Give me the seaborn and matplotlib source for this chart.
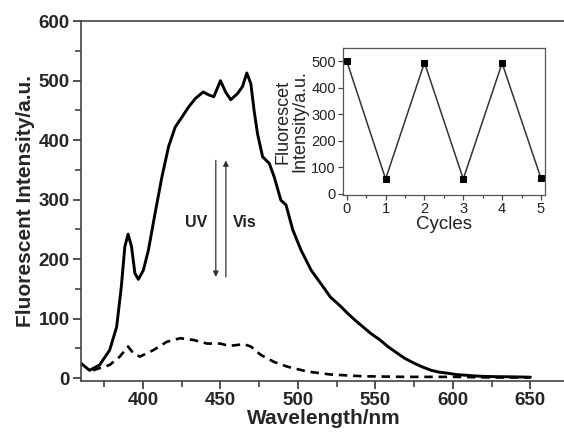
import matplotlib
matplotlib.use("Agg")
import matplotlib.pyplot as plt
from matplotlib.ticker import MultipleLocator
import seaborn as sns

# emission spectrum after visible light (solid)
vis_wl = [359, 365.5, 372, 378.5, 383, 386, 388.3, 390.4, 392.6, 394.8, 397, 400.2,
          403.5, 407.8, 412.2, 416.5, 420.8, 425.2, 429.5, 433.8, 438.8, 442.5, 445.7,
          450, 453.3, 456.6, 460.9, 464.2, 467, 469.6, 471.7, 473.9, 477.2, 481.5,
          484.7, 489, 492.3, 496.7, 502, 508.6, 515, 521, 527, 532, 537, 542, 547,
          553, 558, 564, 569, 575, 580, 586, 591, 597, 602, 607, 612, 618, 625, 640, 650]
vis_int = [27, 13, 22, 47, 86, 153, 221, 242, 221, 176, 166, 181,
           215, 277, 338, 389, 422, 439, 456, 470, 481, 476, 473,
           500, 481, 468, 478, 490, 513, 495, 450, 411, 372, 361,
           338, 299, 291, 249, 215, 181, 158, 136, 122, 109, 97, 86, 75,
           64, 53, 42, 33, 25, 19, 13, 10, 8, 6, 5, 4, 3, 2.5, 2, 1.5]

# emission spectrum after UV light (dashed)
uv_wl = [367.7, 378.5, 385, 390.4, 393.7, 398, 406.7, 415.4, 424, 432.7, 441.4, 450,
         455.5, 465.2, 469.6, 476, 484.7, 493.4, 506, 521, 542, 570, 600, 625, 650]
uv_int = [13, 22, 36, 53, 42, 36, 47, 61, 67, 64, 58, 58,
          54, 57, 53, 39, 27, 19, 11, 6, 3, 2, 2, 1, 1]

# inset: switching cycles
cycles = [0, 1, 2, 3, 4, 5]
cycle_int = [500, 55, 495, 55, 493, 58]

sns.set_theme(style="ticks")
plt.rcParams["font.family"] = ["Liberation Sans", "DejaVu Sans"]

fig = plt.figure(figsize=(5.64, 4.33), dpi=100)
ax = fig.add_axes([0.1436, 0.120, 0.86, 0.831])

sns.lineplot(x=vis_wl, y=vis_int, ax=ax, color="black", linewidth=2.1)
sns.lineplot(x=uv_wl, y=uv_int, ax=ax, color="black", linewidth=1.9,
             linestyle=(0, (3.2, 2.2)))

ax.set_xlim(360, 673)
ax.set_ylim(-5, 600)
ax.xaxis.set_major_locator(MultipleLocator(50))
ax.xaxis.set_minor_locator(MultipleLocator(25))
ax.yaxis.set_major_locator(MultipleLocator(100))
ax.yaxis.set_minor_locator(MultipleLocator(50))
ax.tick_params(which="major", direction="out", length=6, width=1.2, color="#333333",
               labelsize=13.5, pad=2, bottom=True, left=True)
ax.tick_params(which="minor", direction="out", length=4, width=1.1, color="#333333",
               bottom=True, left=True)
for lab in ax.get_xticklabels() + ax.get_yticklabels():
    lab.set_fontweight("bold")
ax.spines["right"].set_visible(False)
for s in ["left", "bottom", "top"]:
    ax.spines[s].set_linewidth(1.2)
    ax.spines[s].set_color("#444444")
ax.set_xlabel("Wavelength/nm", fontsize=15, fontweight="bold", labelpad=0)
ax.set_ylabel("Fluorescent Intensity/a.u.", fontsize=15, fontweight="bold", labelpad=3)

# UV / Vis arrows
ax.annotate("", xy=(447, 170), xytext=(447, 366),
            arrowprops=dict(arrowstyle="-|>", color="#333333", lw=0.9,
                            mutation_scale=8, shrinkA=0, shrinkB=0))
ax.annotate("", xy=(453.5, 366), xytext=(453.5, 170),
            arrowprops=dict(arrowstyle="-|>", color="#333333", lw=0.9,
                            mutation_scale=8, shrinkA=0, shrinkB=0))
ax.text(434.5, 262, "UV", ha="center", va="center", fontsize=11.5, fontweight="bold",
        color="#222222")
ax.text(466, 262, "Vis", ha="center", va="center", fontsize=11.5, fontweight="bold",
        color="#222222")

# inset
ins = fig.add_axes([0.608, 0.550, 0.358, 0.339])
sns.lineplot(x=cycles, y=cycle_int, ax=ins, color="#333333", linewidth=1.1,
             marker="s", markersize=4, markerfacecolor="black", markeredgecolor="black")
ins.set_xlim(-0.1, 5.1)
ins.set_ylim(-5, 550)
ins.xaxis.set_major_locator(MultipleLocator(1))
ins.xaxis.set_minor_locator(MultipleLocator(0.5))
ins.yaxis.set_major_locator(MultipleLocator(100))
ins.tick_params(which="major", direction="out", length=3.5, width=0.9, color="#444444",
                labelsize=10.5, pad=1.5, labelcolor="#222222", bottom=True, left=True)
ins.tick_params(which="minor", direction="out", length=2.5, width=0.9, color="#444444",
                bottom=True, left=False)
for s in ins.spines.values():
    s.set_linewidth(0.9)
    s.set_color("#555555")
ins.set_xlabel("Cycles", fontsize=13.5, labelpad=0, color="#222222")
ins.set_ylabel("Fluorescet\nIntensity/a.u.", fontsize=13, labelpad=2,
               color="#222222", linespacing=1.0)

fig.savefig("out.png", dpi=100)
